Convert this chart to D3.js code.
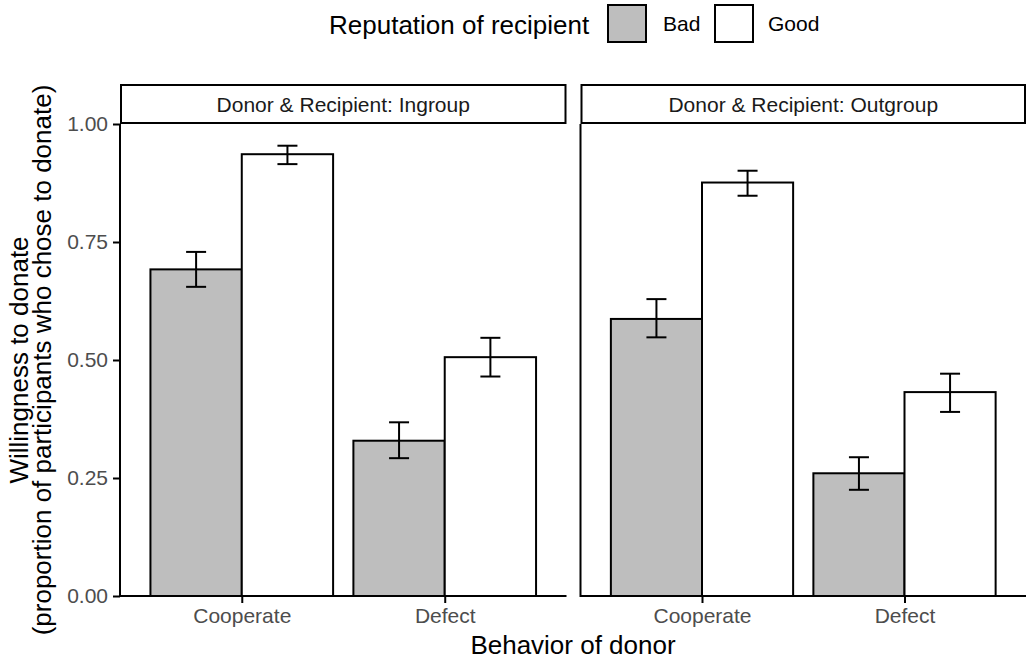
<!DOCTYPE html>
<html>
<head>
<meta charset="utf-8">
<script src="https://cdn.jsdelivr.net/npm/d3@7"></script>
<style>
  html, body { margin: 0; padding: 0; background: #fff; }
  svg { display: block; font-family: "Liberation Sans", Arial, Helvetica, sans-serif; }
</style>
</head>
<body>
<svg id="chart" width="1029" height="662"></svg>
<script>
// Facet panels, donor behaviours and recipient reputations
const panels = ["Donor & Recipient: Ingroup", "Donor & Recipient: Outgroup"];
const behaviors = ["Cooperate", "Defect"];
const reputations = ["Bad", "Good"];
const reputationFill = ["#bebebe", "#ffffff"];

// Mean proportion donating, per panel: [Coop-Bad, Coop-Good, Defect-Bad, Defect-Good]
const meanIngroup  = [0.692, 0.936, 0.329, 0.506];
const lowIngroup   = [0.655, 0.915, 0.292, 0.465];
const highIngroup  = [0.729, 0.954, 0.368, 0.547];
const meanOutgroup = [0.587, 0.876, 0.260, 0.432];
const lowOutgroup  = [0.548, 0.848, 0.225, 0.390];
const highOutgroup = [0.629, 0.901, 0.294, 0.471];

const yTicks = [0, 0.25, 0.5, 0.75, 1.0];

const means = [meanIngroup, meanOutgroup];
const lows = [lowIngroup, lowOutgroup];
const highs = [highIngroup, highOutgroup];

const rows = [];
panels.forEach((p, pi) => {
  behaviors.forEach((b, bi) => {
    reputations.forEach((r, ri) => {
      const k = bi * 2 + ri;
      rows.push({ panel: p, pi, behavior: b, reputation: r, ri,
                  mean: means[pi][k], lo: lows[pi][k], hi: highs[pi][k] });
    });
  });
});

const svg = d3.select("#chart");

const FONT = "Liberation Sans, Arial, Helvetica, sans-serif";
const titleSize = 26;
const smallSize = 21;

const panelTop = 124, panelBottom = 596;
const panelX = [[120, 566.5], [580.5, 1026]];
const stripTop = 85;

const y = d3.scaleLinear().domain([0, 1]).range([panelBottom, panelTop]);

const lineCol = "#000";
const lw = 2;

panels.forEach((p, pi) => {
  const [x0, x1] = panelX[pi];
  // discrete axis with 0.6 unit padding on each side
  const span = 1 + 2 * 0.6;
  const unit = (x1 - x0) / span;
  const x = d3.scalePoint().domain(behaviors).range([x0 + 0.6 * unit, x1 - 0.6 * unit]);
  const sub = d3.scaleBand().domain(reputations).range([-0.45 * unit, 0.45 * unit]).padding(0);

  const g = svg.append("g");

  // strip
  g.append("rect")
    .attr("x", x0 + 1).attr("y", stripTop)
    .attr("width", x1 - x0 - 2).attr("height", panelTop - stripTop - 1)
    .attr("fill", "#fff").attr("stroke", lineCol).attr("stroke-width", lw);
  g.append("text")
    .attr("x", (x0 + x1) / 2).attr("y", (stripTop + panelTop) / 2 + 7.5)
    .attr("text-anchor", "middle").attr("font-size", smallSize).attr("fill", "#1a1a1a")
    .text(p);

  const data = rows.filter(d => d.pi === pi);

  // bars
  g.selectAll("rect.bar").data(data).enter().append("rect")
    .attr("class", "bar")
    .attr("x", d => x(d.behavior) + sub(d.reputation))
    .attr("width", sub.bandwidth())
    .attr("y", d => y(d.mean))
    .attr("height", d => y(0) - y(d.mean))
    .attr("fill", d => reputationFill[d.ri])
    .attr("stroke", lineCol).attr("stroke-width", lw);

  // error bars
  const cap = 10;
  const eb = g.selectAll("g.err").data(data).enter().append("g").attr("class", "err");
  const cx = d => x(d.behavior) + sub(d.reputation) + sub.bandwidth() / 2;
  eb.append("line").attr("x1", cx).attr("x2", cx)
    .attr("y1", d => y(d.lo)).attr("y2", d => y(d.hi))
    .attr("stroke", lineCol).attr("stroke-width", lw);
  eb.append("line").attr("x1", d => cx(d) - cap).attr("x2", d => cx(d) + cap)
    .attr("y1", d => y(d.lo)).attr("y2", d => y(d.lo))
    .attr("stroke", lineCol).attr("stroke-width", lw);
  eb.append("line").attr("x1", d => cx(d) - cap).attr("x2", d => cx(d) + cap)
    .attr("y1", d => y(d.hi)).attr("y2", d => y(d.hi))
    .attr("stroke", lineCol).attr("stroke-width", lw);

  // x axis
  const xAxis = g.append("g").attr("transform", `translate(0,${panelBottom})`)
    .call(d3.axisBottom(x).tickSize(7).tickPadding(5));
  xAxis.select(".domain").remove();
  xAxis.selectAll(".tick line").attr("stroke", lineCol).attr("stroke-width", lw);
  xAxis.selectAll(".tick text").attr("font-size", smallSize).attr("fill", "#4d4d4d")
    .attr("font-family", FONT);
  g.append("line").attr("x1", x0).attr("x2", x1)
    .attr("y1", panelBottom).attr("y2", panelBottom)
    .attr("stroke", lineCol).attr("stroke-width", lw);

  // y axis (left panel only)
  if (pi === 0) {
    const yAxis = g.append("g").attr("transform", `translate(${x0},0)`)
      .call(d3.axisLeft(y).tickValues(yTicks).tickFormat(d3.format(".2f")).tickSize(7).tickPadding(5));
    yAxis.select(".domain").remove();
    yAxis.selectAll(".tick line").attr("stroke", lineCol).attr("stroke-width", lw);
    yAxis.selectAll(".tick text").attr("font-size", smallSize).attr("fill", "#4d4d4d")
      .attr("font-family", FONT);
  }
  g.append("line").attr("x1", x0).attr("x2", x0)
    .attr("y1", panelTop).attr("y2", panelBottom + 1)
    .attr("stroke", lineCol).attr("stroke-width", lw);
});

// axis titles
svg.append("text")
  .attr("x", (panelX[0][0] + panelX[1][1]) / 2).attr("y", 654)
  .attr("text-anchor", "middle").attr("font-size", titleSize).attr("fill", "#000")
  .text("Behavior of donor");

const yt = svg.append("text")
  .attr("transform", `translate(0,${(panelTop + panelBottom) / 2}) rotate(-90)`)
  .attr("text-anchor", "middle").attr("font-size", titleSize).attr("fill", "#000");
yt.append("tspan").attr("x", 0).attr("y", 28).text("Willingness to donate");
yt.append("tspan").attr("x", 0).attr("y", 51).text("(proportion of participants who chose to donate)");

// legend
const legend = svg.append("g");
legend.append("text").attr("x", 329).attr("y", 34)
  .attr("font-size", titleSize).attr("fill", "#000").text("Reputation of recipient");
const keyX = [608, 715];
const labX = [663, 768];
reputations.forEach((r, i) => {
  legend.append("rect")
    .attr("x", keyX[i]).attr("y", 5).attr("width", 38).attr("height", 37)
    .attr("fill", reputationFill[i]).attr("stroke", lineCol).attr("stroke-width", lw);
  legend.append("text").attr("x", labX[i]).attr("y", 31)
    .attr("font-size", smallSize).attr("fill", "#000").text(r);
});
</script>
</body>
</html>
